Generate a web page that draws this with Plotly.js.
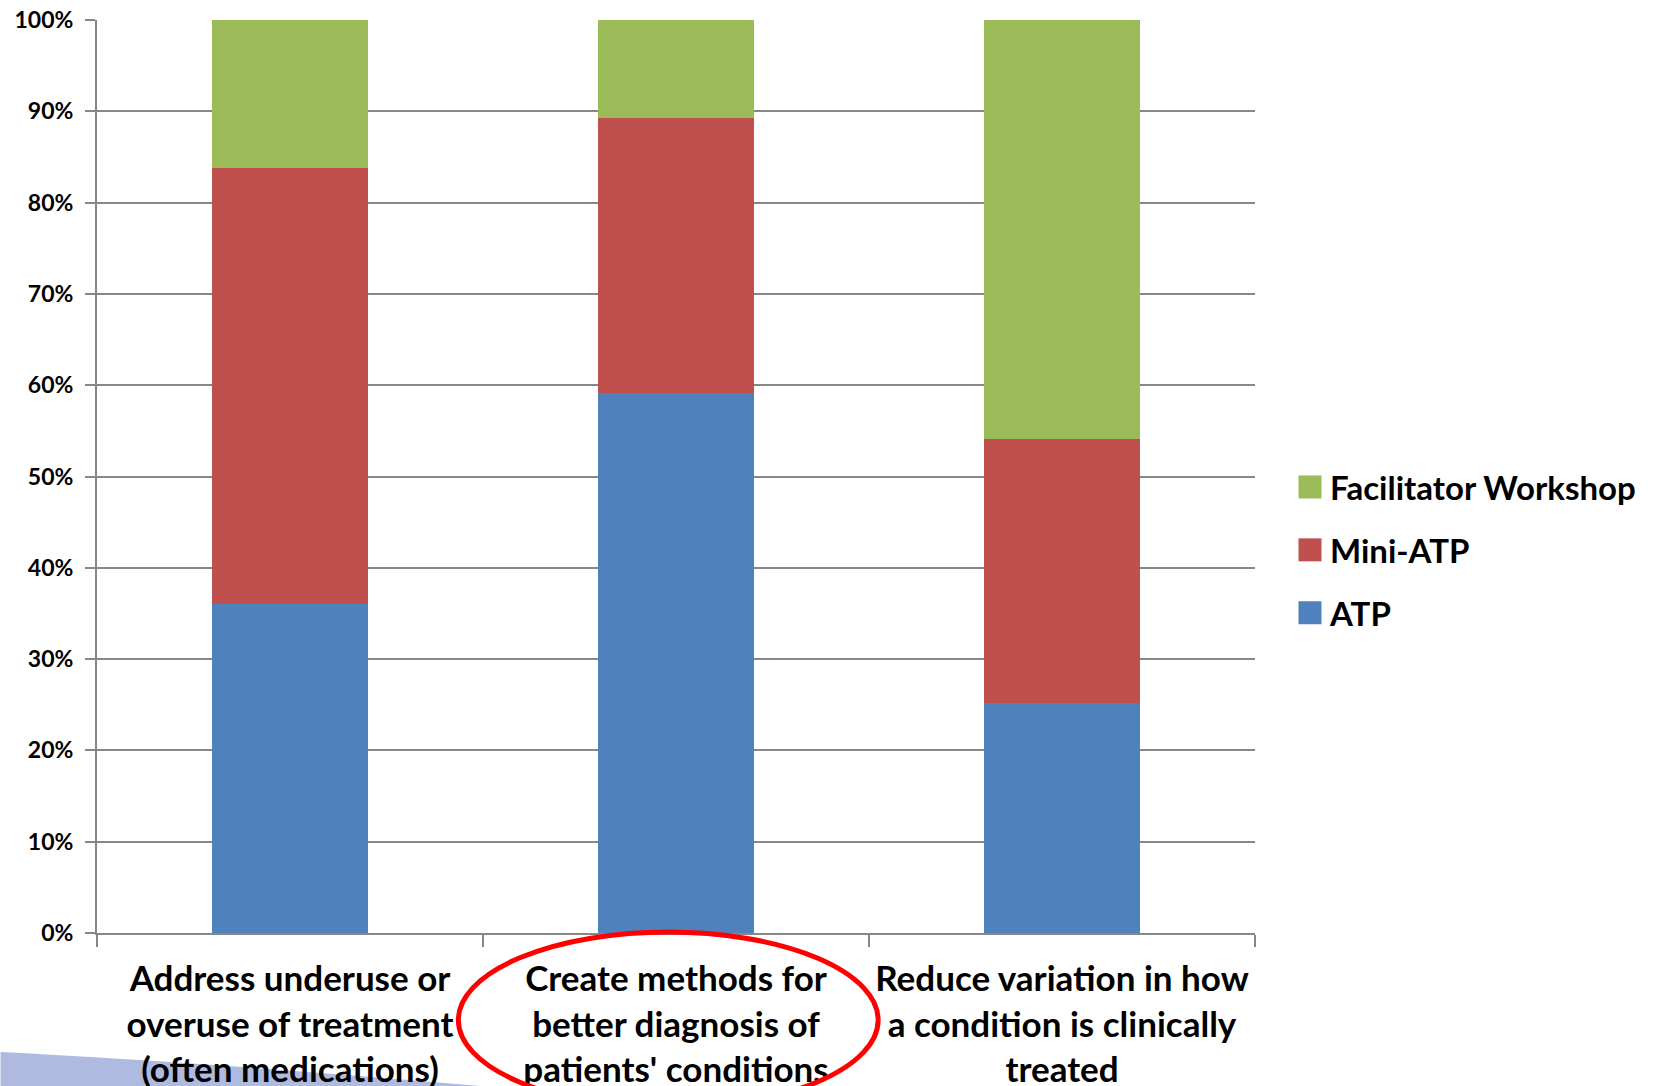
<!DOCTYPE html>
<html>
<head>
<meta charset="utf-8">
<script src="https://cdn.plot.ly/plotly-3.0.1.min.js"></script>
<style>
  html, body { margin: 0; padding: 0; background: #ffffff; }
  #chart { width: 1662px; height: 1086px; }
</style>
</head>
<body>
<div id="chart"></div>
<script>
// ---- data (shares) ----
const categories = [
  "Address underuse or<br>overuse of treatment<br>(often medications)",
  "Create methods for<br>better diagnosis of<br>patients' conditions",
  "Reduce variation in how<br>a condition is clinically<br>treated"
];
const seriesNames = ["ATP", "Mini-ATP", "Facilitator Workshop"];
const atpValues = [0.36, 0.592, 0.252];
const miniAtpValues = [0.478, 0.301, 0.289];
const facilitatorValues = [0.162, 0.107, 0.459];
const legendRanks = [3, 2, 1];
const yTickValues = [0, 0.1, 0.2, 0.3, 0.4, 0.5, 0.6, 0.7, 0.8, 0.9, 1.0];
const yTickLabels = ["0%", "10%", "20%", "30%", "40%", "50%", "60%", "70%", "80%", "90%", "100%"];

const colors = ["#4F81BD", "#C0504D", "#9BBB59"];
const seriesValues = [atpValues, miniAtpValues, facilitatorValues];

const FONT = "Lato, 'Open Sans', 'DejaVu Sans', sans-serif";

const traces = seriesNames.map((name, i) => ({
  type: "bar",
  name: name,
  x: categories,
  y: seriesValues[i],
  marker: { color: colors[i], line: { width: 0 } },
  legendgroup: "g" + i,
  legendrank: legendRanks[i],
  hoverinfo: "name+y"
}));

const L = 96.5, R = 1255, T = 20, B = 933;
const W = 1662, H = 1086;
const pw = R - L, ph = B - T;
function px(x) { return (x - L) / pw; }
function py(y) { return (B - y) / ph; }

const layout = {
  width: W,
  height: H,
  margin: { l: L, r: W - R, t: T, b: H - B, pad: 0 },
  paper_bgcolor: "#ffffff",
  plot_bgcolor: "#ffffff",
  barmode: "stack",
  bargap: 0.596,
  font: { family: FONT, color: "#000000" },
  xaxis: {
    type: "category",
    showline: true,
    linecolor: "#878787",
    linewidth: 2,
    ticks: "outside",
    tickson: "boundaries",
    ticklen: 12,
    tickwidth: 2,
    tickcolor: "#878787",
    showgrid: false,
    ticklabelstandoff: 14,
    tickfont: { family: FONT, size: 35, color: "#000000", weight: "bold" },
    automargin: false
  },
  yaxis: {
    range: [0, 1],
    tickmode: "array",
    tickvals: yTickValues,
    ticktext: yTickLabels,
    showline: true,
    linecolor: "#878787",
    linewidth: 2,
    ticks: "outside",
    ticklen: 10,
    tickwidth: 2,
    tickcolor: "#878787",
    showgrid: true,
    gridcolor: "#878787",
    gridwidth: 2,
    zeroline: false,
    ticklabelstandoff: 7,
    tickfont: { family: FONT, size: 23, color: "#000000", weight: "bold" },
    automargin: false
  },
  showlegend: true,
  legend: {
    x: px(1290),
    xanchor: "left",
    y: py(550),
    yanchor: "middle",
    traceorder: "grouped",
    tracegroupgap: 17,
    font: { family: FONT, size: 33, color: "#000000", weight: "bold" },
    bgcolor: "rgba(0,0,0,0)",
    borderwidth: 0
  },
  shapes: [
    {
      type: "path",
      xref: "paper", yref: "paper",
      path: "M " + px(0) + "," + py(1052) + " Q " + px(200) + "," + py(1062) + " " + px(480) + "," + py(1086) +
            " L " + px(0) + "," + py(1086) + " Z",
      fillcolor: "rgba(140,156,210,0.7)",
      line: { width: 0 },
      layer: "below"
    },
    {
      type: "circle",
      xref: "paper", yref: "paper",
      x0: px(458), x1: px(878),
      y0: py(932), y1: py(1108),
      line: { color: "#FF0000", width: 5 },
      fillcolor: "rgba(0,0,0,0)",
      layer: "above"
    }
  ]
};

function enlargeLegendSymbols(gd) {
  // draw the legend swatches as larger squares, like the original
  gd.querySelectorAll(".legend .legendpoints path.legendundefined, .legend .legendpoints path").forEach(p => {
    p.setAttribute("d", "M11.5,11.5H-11.5V-11.5H11.5Z");
  });
}

Plotly.newPlot("chart", traces, layout, { displayModeBar: false, responsive: false, staticPlot: true })
  .then(gd => enlargeLegendSymbols(gd));
</script>
</body>
</html>
